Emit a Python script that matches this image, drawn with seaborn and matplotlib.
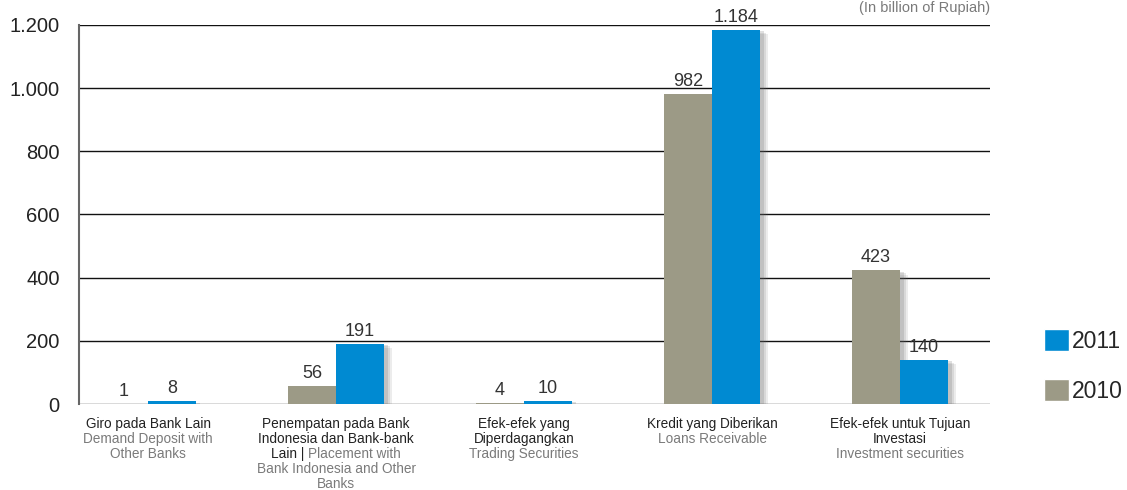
import matplotlib
matplotlib.use("Agg")
import matplotlib.pyplot as plt
import matplotlib.patheffects as pe
from matplotlib.offsetbox import TextArea, HPacker, VPacker, AnnotationBbox
from matplotlib.patches import Patch
import seaborn as sns
import pandas as pd

# ---- data ----
categories = ["Giro", "Penempatan", "Efek Diperdagangkan", "Kredit", "Efek Investasi"]
values_2010 = [1, 56, 4, 982, 423]
values_2011 = [8, 191, 10, 1184, 140]
years = ["2010", "2011"]
yticks = [0, 200, 400, 600, 800, 1000, 1200]
ytick_labels = ["0", "200", "400", "600", "800", "1.000", "1.200"]
unit_note = "(In billion of Rupiah)"

DARK = "#222222"
GREY_TXT = "#7a7a7a"
# each category label: list of lines, each line a list of (text, colour-key)
cat_labels = [
    [[("Giro pada Bank Lain", "d")], [("Demand Deposit with", "g")], [("Other Banks", "g")]],
    [[("Penempatan pada Bank", "d")], [("Indonesia dan Bank-bank", "d")],
     [("Lain | ", "d"), ("Placement with", "g")], [("Bank Indonesia and Other", "g")], [("Banks", "g")]],
    [[("Efek-efek yang", "d")], [("Diperdagangkan", "d")], [("Trading Securities", "g")]],
    [[("Kredit yang Diberikan", "d")], [("Loans Receivable", "g")]],
    [[("Efek-efek untuk Tujuan", "d")], [("Investasi", "d")], [("Investment securities", "g")]],
]

colors = {"2010": "#9C9A86", "2011": "#008AD2"}

df = pd.DataFrame({
    "category": categories * 2,
    "year": ["2010"] * len(categories) + ["2011"] * len(categories),
    "value": values_2010 + values_2011,
})

sns.set_theme(style="white")
plt.rcParams["font.family"] = ["Liberation Sans", "DejaVu Sans"]

fig = plt.figure(figsize=(11.27, 4.9), dpi=100)
ax = fig.add_axes([0.0701, 0.1755, 0.8084, 0.7735])

sns.barplot(data=df, x="category", y="value", hue="year", hue_order=years,
            palette=colors, width=0.51, gap=0, ax=ax, legend=False,
            saturation=1, errorbar=None, zorder=3)

shadow = [pe.SimplePatchShadow(offset=(6, -3), shadow_rgbFace="#666666", alpha=0.12),
          pe.SimplePatchShadow(offset=(4.5, -2), shadow_rgbFace="#666666", alpha=0.15),
          pe.SimplePatchShadow(offset=(3, -1), shadow_rgbFace="#666666", alpha=0.2),
          pe.Normal()]
for p in ax.patches:
    p.set_path_effects(shadow)
    p.set_edgecolor("none")

ax.set_xlim(-0.367, 4.479)
ax.set_ylim(0, 1200)
ax.set_yticks(yticks)
ax.set_yticklabels(ytick_labels, fontsize=14.5, color=DARK)
ax.tick_params(axis="y", length=8, width=1.0, color="black", pad=6)
ax.tick_params(axis="x", length=0)
ax.set_xticks(range(len(categories)))
ax.set_xticklabels([""] * len(categories))
ax.set_xlabel("")
ax.set_ylabel("")
for yv in yticks:
    ax.axhline(yv, color="#111111" if yv else "#444444", lw=1.0, zorder=1)
for s in ["top", "right", "bottom"]:
    ax.spines[s].set_visible(False)
ax.spines["left"].set_color("#666666")
ax.spines["left"].set_linewidth(1.5)
ax.spines["left"].set_zorder(4)

# value labels
for cont, vals in zip(ax.containers, [values_2010, values_2011]):
    ax.bar_label(cont, labels=[f"{v:,}".replace(",", ".") for v in vals],
                 padding=3, fontsize=13, color="#333333", clip_on=False)

# category labels (two-coloured, multi-line)
for i, lines in enumerate(cat_labels):
    rows = []
    for line in lines:
        parts = [TextArea(t, textprops=dict(color=DARK if c == "d" else GREY_TXT,
                                             fontsize=9.8, family=["Liberation Sans", "DejaVu Sans"]))
                 for t, c in line]
        rows.append(HPacker(children=parts, align="baseline", pad=0, sep=0))
    box = VPacker(children=rows, align="center", pad=0, sep=0.8)
    ab = AnnotationBbox(box, (i, 0), xycoords=("data", "axes fraction"),
                        xybox=(0, -9), boxcoords="offset points",
                        box_alignment=(0.5, 1.0), frameon=False, annotation_clip=False)
    ax.add_artist(ab)

# unit note
fig.text(0.8784, 0.983, unit_note, ha="right", va="center", fontsize=10.5, color=GREY_TXT)

# legend
handles = [Patch(facecolor=colors["2011"], label="2011"),
           Patch(facecolor=colors["2010"], label="2010")]
fig.legend(handles=handles, loc="center left", bbox_to_anchor=(0.926, 0.253),
           frameon=False, fontsize=16.5, handlelength=1.1, handleheight=1.1,
           handletextpad=0.15, labelspacing=1.15, borderpad=0, borderaxespad=0)

fig.savefig("out.png", dpi=100)
